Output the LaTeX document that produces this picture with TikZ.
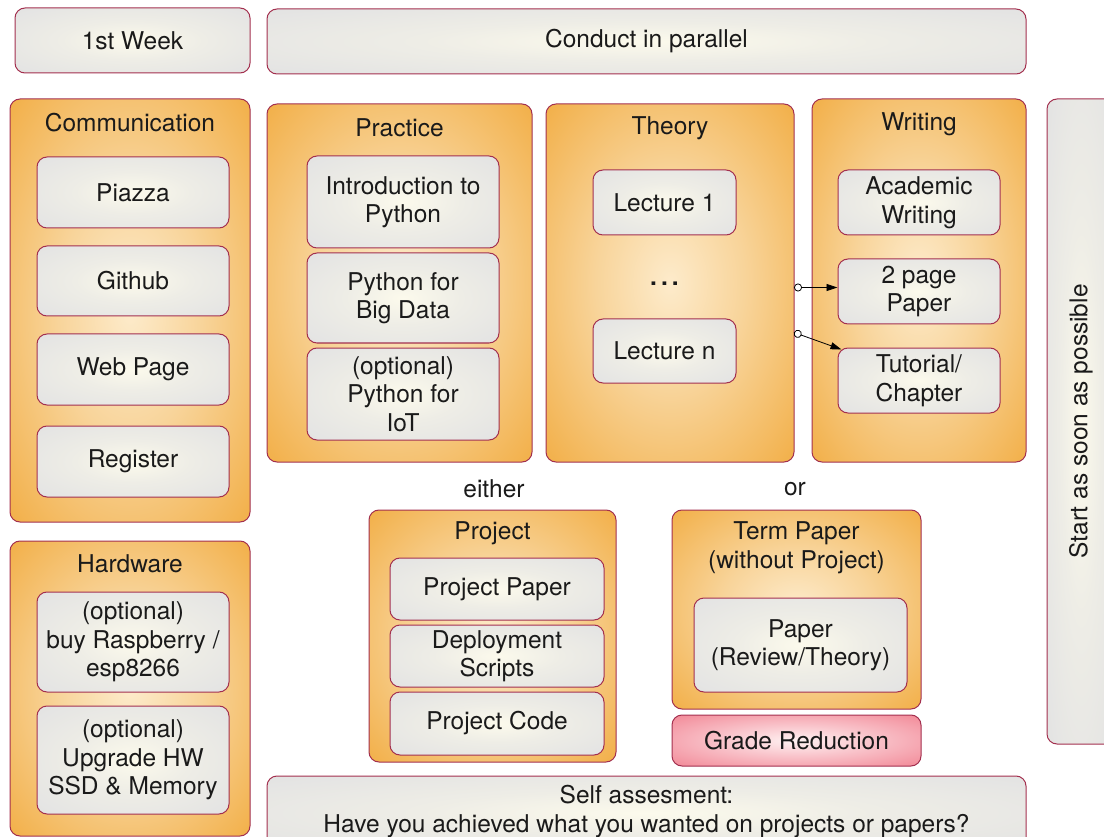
\documentclass[tikz,border=0pt]{standalone}
\usepackage{fontspec}
\setmainfont{TeX Gyre Heros}
\usetikzlibrary{arrows.meta,calc}
\definecolor{bord}{HTML}{A3304F}
\definecolor{txt}{HTML}{1A1A1A}
\definecolor{oin}{HTML}{FDEBCB}
\definecolor{oa}{HTML}{F8D49A}
\definecolor{ob}{HTML}{F2B04A}
\definecolor{oout}{HTML}{EC9400}
\definecolor{gin}{HTML}{FCFAEC}
\definecolor{ga}{HTML}{EEEDE6}
\definecolor{gb}{HTML}{E3E3E3}
\definecolor{gout}{HTML}{DADADA}
\definecolor{pin}{HTML}{FFF2F2}
\definecolor{pa}{HTML}{F9C4CB}
\definecolor{pb}{HTML}{F28A98}
\definecolor{pout}{HTML}{EE7082}
\pgfdeclareradialshading{orsh}{\pgfpointorigin}{color(0bp)=(oin); color(15bp)=(oa); color(35bp)=(ob); color(50bp)=(oout); color(71bp)=(oout)}
\pgfdeclareradialshading{grsh}{\pgfpointorigin}{color(0bp)=(gin); color(15bp)=(ga); color(35bp)=(gb); color(50bp)=(gout); color(71bp)=(gout)}
\pgfdeclareradialshading{prsh}{\pgfpointorigin}{color(0bp)=(pin); color(15bp)=(pa); color(35bp)=(pb); color(50bp)=(pout); color(71bp)=(pout)}
\begin{document}
\begin{tikzpicture}[x=1pt,y=-1pt,
  base/.style={draw=bord, line width=1pt, rounded corners=10pt, inner sep=0pt, align=center, font=\fontsize{24.5}{28.5}\selectfont, text=txt},
  obox/.style={base, shading=orsh},
  gbox/.style={base, shading=grsh},
  pbox/.style={base, shading=prsh},
  lbl/.style={font=\fontsize{24.5}{28.5}\selectfont, text=txt, align=center, inner sep=0pt},
  arr/.style={line width=0.8pt, draw=black, {Circle[open,length=8pt,width=8pt,fill=white,line width=0.8pt]}-{Triangle[length=11pt,width=7pt]}}
]
\useasboundingbox (0,0) rectangle (1104,837);

% top row
\node[gbox, minimum width=235pt, minimum height=65pt] (week) at (132.5,40.5) {1st Week};
\node[gbox, minimum width=759pt, minimum height=65pt] (par) at (646.5,41.5) {Conduct in parallel};

% Communication
\node[obox, minimum width=240pt, minimum height=423pt] (comm) at (130,310.5) {};
\node[lbl] (commt) at (130,123) {Communication};
\node[gbox, minimum width=192pt, minimum height=71pt] (piazza) at (133,192.5) {Piazza};
\node[gbox, minimum width=192pt, minimum height=70pt] (github) at (133,281) {Github};
\node[gbox, minimum width=192pt, minimum height=71pt] (web) at (133,369.5) {Web Page};
\node[gbox, minimum width=192pt, minimum height=71pt] (reg) at (133,461.5) {Register};

% Hardware
\node[obox, minimum width=240pt, minimum height=295pt] (hw) at (130,688.5) {};
\node[lbl] (hwt) at (130,564) {Hardware};
\node[gbox, minimum width=192pt, minimum height=100pt] (rasp) at (133,642) {(optional)\\buy Raspberry /\\esp8266};
\node[gbox, minimum width=192pt, minimum height=108pt] (upg) at (133,760) {(optional)\\Upgrade HW\\SSD \& Memory};

% Practice
\node[obox, minimum width=265pt, minimum height=358pt] (prac) at (399.5,283) {};
\node[lbl] (pract) at (399.5,128) {Practice};
\node[gbox, minimum width=192pt, minimum height=92pt] (intro) at (403,202) {Introduction to\\Python};
\node[gbox, minimum width=192pt, minimum height=90pt] (big) at (403,298) {Python for\\Big Data};
\node[gbox, minimum width=192pt, minimum height=92pt] (iot) at (403,394) {(optional)\\Python for\\IoT};

% Theory
\node[obox, minimum width=248pt, minimum height=358pt] (theo) at (670,283) {};
\node[lbl] (theot) at (670,128) {Theory};
\node[gbox, minimum width=143pt, minimum height=65pt] (l1) at (664.5,202.5) {Lecture 1};
\node[lbl] (dots) at (664.5,284) {\textbf{.\,.\,.}};
\node[gbox, minimum width=143pt, minimum height=64pt] (ln) at (664.5,351) {Lecture n};

% Writing
\node[obox, minimum width=214pt, minimum height=363pt] (wri) at (919,280.5) {};
\node[lbl] (writ) at (919,124) {Writing};
\node[gbox, minimum width=162pt, minimum height=65pt] (acad) at (919,202.5) {Academic\\Writing};
\node[gbox, minimum width=162pt, minimum height=65pt] (p2) at (919,291.5) {2 page\\Paper};
\node[gbox, minimum width=162pt, minimum height=65pt] (tut) at (919,380.5) {Tutorial/\\Chapter};

% Start as soon as possible
\node[gbox, minimum width=645pt, minimum height=68pt, rotate=90] (start) at (1081,421.5) {Start as soon as possible};

% either / or
\node[lbl] (either) at (494,489) {either};
\node[lbl] (or) at (795,489) {or};

% Project
\node[obox, minimum width=247pt, minimum height=252pt] (proj) at (492.5,636) {};
\node[lbl] (projt) at (492.5,533) {Project};
\node[gbox, minimum width=214pt, minimum height=62pt] (pp) at (497,589) {Project Paper};
\node[gbox, minimum width=214pt, minimum height=62pt] (ds) at (497,656) {Deployment\\Scripts};
\node[gbox, minimum width=214pt, minimum height=63pt] (pc) at (497,723.5) {Project Code};

% Term paper
\node[obox, minimum width=249pt, minimum height=199pt] (term) at (796.5,609.5) {};
\node[lbl] (termt) at (796.5,547.5) {Term Paper\\(without Project)};
\node[gbox, minimum width=213pt, minimum height=94pt] (rev) at (800.5,645) {Paper\\(Review/Theory)};
\node[pbox, minimum width=249pt, minimum height=51pt] (grade) at (796.5,740.5) {Grade Reduction};

% Self assessment
\node[gbox, minimum width=759pt, minimum height=74pt] (self) at (646.5,813) {};
\node[lbl] (selft) at (646.5,811.5) {Self assesment:\\Have you achieved what you wanted on projects or papers?};

% connectors
\coordinate (a1) at (794,287.5);
\coordinate (a2) at (794,332.5);
\draw[arr] (a1) -- (a1 -| p2.west);
\draw[arr] (a2) -- ($(tut.north west)+(4,2)$);
\end{tikzpicture}
\end{document}
